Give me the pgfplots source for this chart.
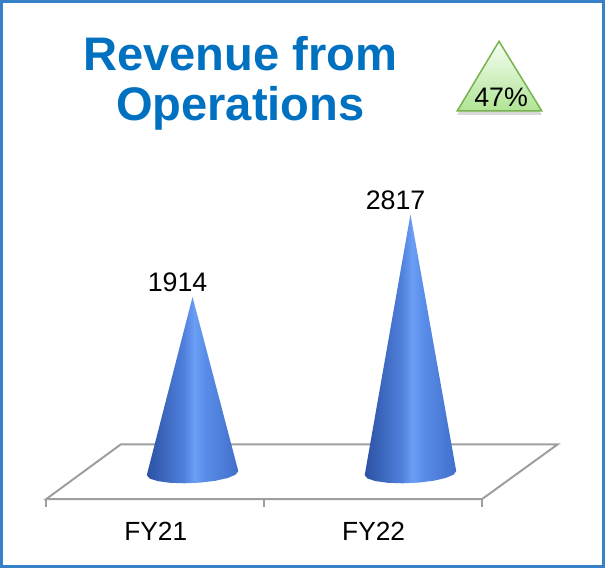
\documentclass[border=0pt]{standalone}
\usepackage{fontspec}
\setmainfont{Liberation Sans}
\usepackage{pgfplots}
\pgfplotsset{compat=1.18}
\usetikzlibrary{shadows}
\definecolor{titleblue}{RGB}{0,112,192}
\definecolor{frameblue}{RGB}{56,128,200}
\definecolor{floorgray}{RGB}{158,158,158}
\definecolor{badgeline}{RGB}{118,178,78}
\definecolor{badgetop}{RGB}{246,253,242}
\definecolor{badgebot}{RGB}{176,228,148}
\pgfdeclarehorizontalshading{cone}{100bp}{
  rgb(0bp)=(0.20,0.36,0.70);
  rgb(25bp)=(0.17,0.32,0.64);
  rgb(45bp)=(0.31,0.50,0.86);
  rgb(51bp)=(0.42,0.62,0.96);
  rgb(57bp)=(0.35,0.55,0.91);
  rgb(76bp)=(0.25,0.43,0.79);
  rgb(100bp)=(0.19,0.34,0.66)}
\begin{document}
\begin{tikzpicture}
\begin{axis}[
  width=605bp, height=568bp, scale only axis,
  xmin=0.1233, xmax=2.8858, ymin=-1032.6, ymax=5141.3,
  clip=false,
  axis line style={draw=frameblue, line width=3bp},
  ytick=\empty,
  xtick={0.831,1.831}, xticklabels={FY21,FY22},
  major tick length=0pt,
  xticklabel style={anchor=base, yshift=26bp, font=\fontsize{26.5}{30}\selectfont},
]
% floor
\addplot[floorgray, line width=2bp, line join=miter] coordinates {(0.3288,-293.5) (2.3288,-293.5) (2.6758,304.3) (0.6712,304.3)} -- cycle;
\addplot[floorgray, line width=2bp] coordinates {(0.3288,-293.5) (0.3288,-380)};
\addplot[floorgray, line width=2bp] coordinates {(1.3288,-293.5) (1.3288,-380)};
\addplot[floorgray, line width=2bp] coordinates {(2.3288,-293.5) (2.3288,-380)};
% cones (apex = value)
\addplot[draw=none, shading=cone] coordinates {
 (1,1914) (0.7900,-32.6) (0.8026,-68.5) (0.8391,-97.4) (0.8950,-115.9) (0.9635,-121.7)
 (1.0365,-114.1) (1.1050,-94.1) (1.1609,-64.1) (1.1974,-27.6) (1.2100,10.9)} -- cycle;
\addplot[draw=none, shading=cone] coordinates {
 (2,2817) (1.7900,-32.6) (1.8026,-68.5) (1.8391,-97.4) (1.8950,-115.9) (1.9635,-121.7)
 (2.0365,-114.1) (2.1050,-94.1) (2.1609,-64.1) (2.1974,-27.6) (2.2100,10.9)} -- cycle;
% value labels
\addplot[draw=none, mark=none, point meta=explicit symbolic, nodes near coords,
  every node near coord/.append style={anchor=base, xshift=-15bp, yshift=5bp, font=\fontsize{27}{30}\selectfont}]
  coordinates {(1,1914) [1914] (2,2817) [2817]};
% title
\node[anchor=base, text=titleblue, font=\bfseries\fontsize{47.5}{50}\selectfont] at (rel axis cs:0.3967,0.8785) {Revenue from};
\node[anchor=base, text=titleblue, font=\bfseries\fontsize{47.5}{50}\selectfont] at (rel axis cs:0.3967,0.7887) {Operations};
% badge
\path[draw=badgeline, line width=1.5bp, top color=badgetop, bottom color=badgebot,
  drop shadow={shadow xshift=0pt, shadow yshift=-4bp, opacity=0.3}]
  (rel axis cs:0.8264,0.9296) -- (rel axis cs:0.7570,0.8063) -- (rel axis cs:0.8975,0.8063) -- cycle;
\node[anchor=base, font=\fontsize{27}{30}\selectfont] at (rel axis cs:0.8298,0.8134) {47\%};
\end{axis}
\end{tikzpicture}
\end{document}
